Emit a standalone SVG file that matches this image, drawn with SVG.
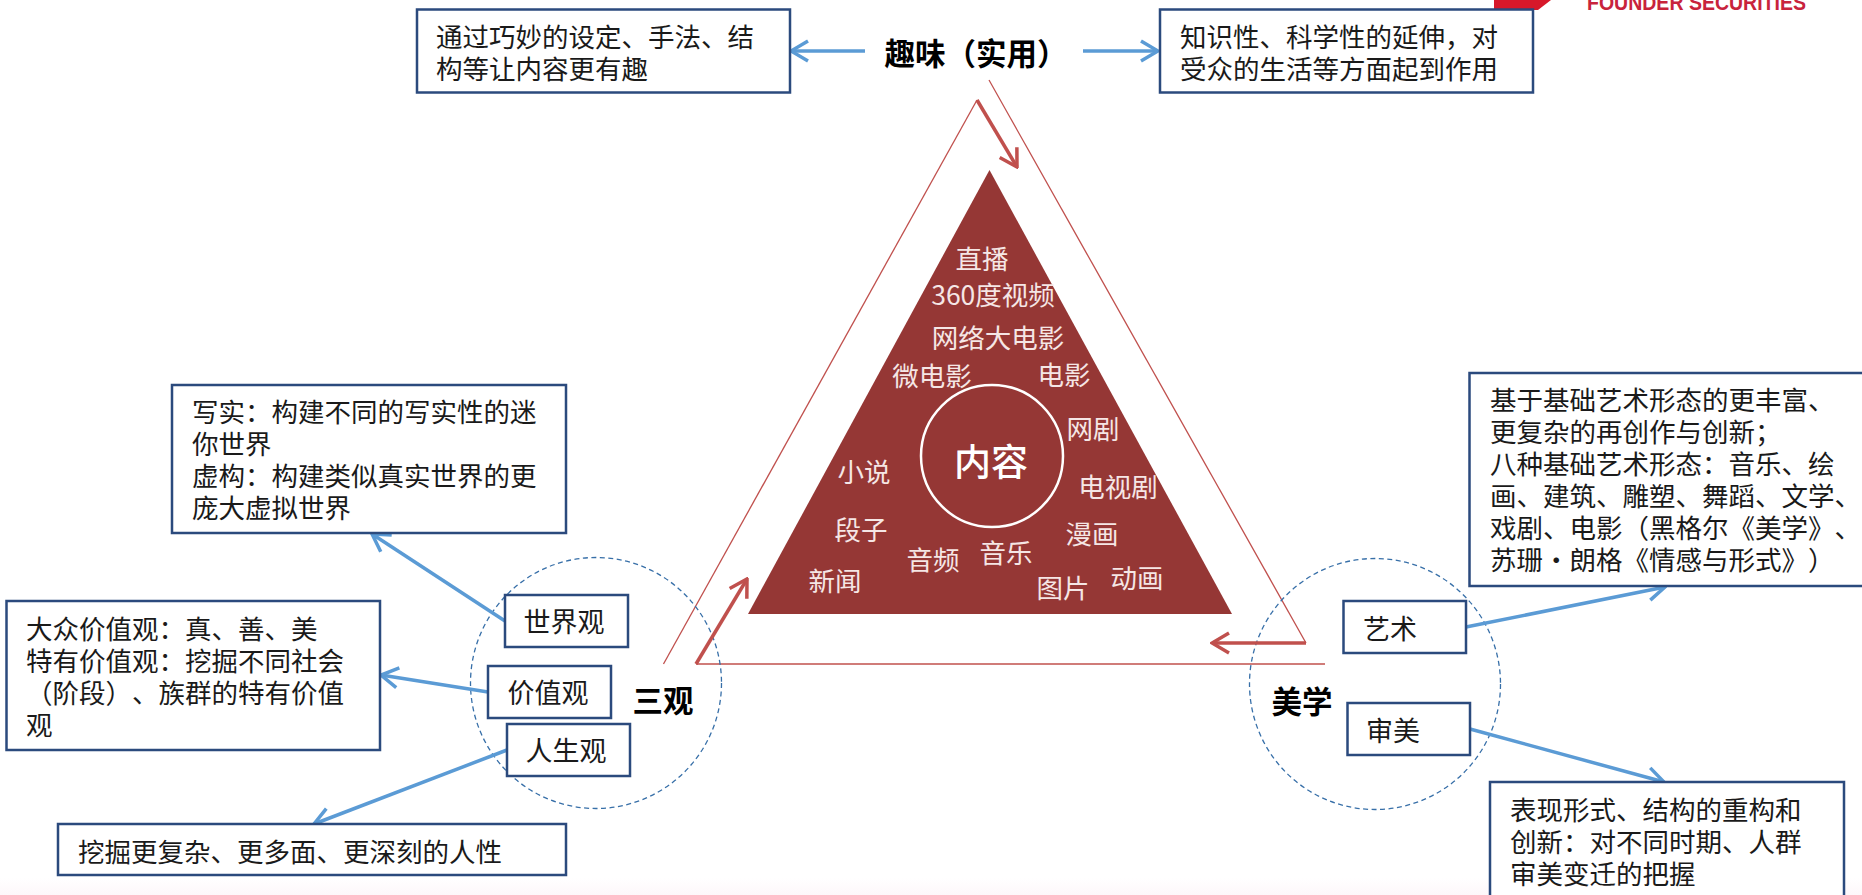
<svg xmlns="http://www.w3.org/2000/svg" width="1862" height="895" viewBox="0 0 1862 895">
<style>
text{font-family:"Noto Sans CJK SC","Noto Sans",sans-serif;text-spacing-trim:space-all;font-feature-settings:"palt" 0;}
.box{fill:#fff;stroke:#2b4a7d;stroke-width:2.5;}
.t{font-size:26.5px;fill:#1a1a1a;}
.c{font-size:27px;fill:#1a1a1a;text-anchor:middle;}
.h{font-size:30.5px;font-weight:700;fill:#000;text-anchor:middle;}
.w{font-size:26.5px;fill:#f5e6e5;text-anchor:middle;font-weight:400;}
.blue{fill:none;stroke:#5b9bd5;stroke-width:3.5;marker-end:url(#ab);}
.red{fill:none;stroke:#c0504d;stroke-width:3.5;marker-end:url(#ar);}
.thin{fill:none;stroke:#c0504d;stroke-width:1.3;}
.dash{fill:none;stroke:#376fa8;stroke-width:1.3;stroke-dasharray:5 3.5;}
</style>
<defs>
<marker id="ab" viewBox="-20 -12 22 24" markerUnits="userSpaceOnUse" markerWidth="22" markerHeight="24" refX="0" refY="0" orient="auto"><path d="M-17-10L0 0L-17 10" fill="none" stroke="#5b9bd5" stroke-width="3.5"/></marker>
<marker id="ar" viewBox="-20 -12 22 24" markerUnits="userSpaceOnUse" markerWidth="22" markerHeight="24" refX="0" refY="0" orient="auto"><path d="M-17-10L0 0L-17 10" fill="none" stroke="#c0504d" stroke-width="3.5"/></marker>
<linearGradient id="bg" x1="0" y1="0" x2="0" y2="1"><stop offset="0" stop-color="#fff"/><stop offset="1" stop-color="#fdf7fa"/></linearGradient>
</defs>
<rect width="1862" height="895" fill="#fff"/>
<rect y="878" width="1862" height="17" fill="url(#bg)"/>

<g id="logo">
<path d="M1494 0H1551L1538 10H1494Z" fill="#d7182a"/>
<text x="1587" y="10" font-size="22" font-weight="700" fill="#c8233c" textLength="219" lengthAdjust="spacingAndGlyphs" style="font-family:'Liberation Sans',sans-serif">FOUNDER SECURITIES</text>
</g>

<g id="frame">
<path class="thin" d="M663.5 664L977 100"/>
<path class="thin" d="M989 80L1306 643"/>
<path class="thin" d="M696 664H1325" stroke-width="1.6"/>
<circle class="dash" cx="596" cy="683" r="125.5"/>
<circle class="dash" cx="1375" cy="684" r="125.5"/>
</g>

<g id="content">
<path d="M989.500 170L1232 614H748Z" fill="#953735"/>
<circle cx="992" cy="456" r="71" fill="none" stroke="#fff" stroke-width="2.5"/>
<text x="991" y="476" font-size="37" font-weight="500" fill="#fff" text-anchor="middle">内容</text>
<text class="w" x="982" y="269">直播</text>
<text class="w" x="993" y="305">360度视频</text>
<text class="w" x="998" y="348">网络大电影</text>
<text class="w" x="932" y="386">微电影</text>
<text class="w" x="1064" y="385">电影</text>
<text class="w" x="1093" y="439">网剧</text>
<text class="w" x="864" y="482">小说</text>
<text class="w" x="1118" y="497">电视剧</text>
<text class="w" x="861" y="540">段子</text>
<text class="w" x="1092" y="544">漫画</text>
<text class="w" x="1006" y="563">音乐</text>
<text class="w" x="933" y="570">音频</text>
<text class="w" x="835" y="591">新闻</text>
<text class="w" x="1063" y="598">图片</text>
<text class="w" x="1137" y="588">动画</text>
</g>

<g id="connectors">
<path class="red" d="M977 100L1017 167"/>
<path class="red" d="M696 664L747 579"/>
<path class="red" d="M1306 643H1212"/>
<path class="blue" d="M865 51H791"/>
<path class="blue" d="M1083 51H1158"/>
<path class="blue" d="M505 621L372 534"/>
<path class="blue" d="M488 692L381 675"/>
<path class="blue" d="M507 750L314 824"/>
<path class="blue" d="M1466 627L1665 587"/>
<path class="blue" d="M1470 729L1664 782"/>
</g>

<g id="title-interest"><text class="h" x="976" y="65">趣味（实用）</text></g>
<g id="title-sanguan"><text class="h" x="663" y="712">三观</text></g>
<g id="title-aesthetics"><text class="h" x="1302" y="713">美学</text></g>

<g id="box-interest-left">
<rect class="box" x="417" y="9.5" width="373" height="83"/>
<text class="t" x="436" y="47">通过巧妙的设定、手法、结</text>
<text class="t" x="436" y="79">构等让内容更有趣</text>
</g>
<g id="box-interest-right">
<rect class="box" x="1160" y="9.5" width="373" height="83"/>
<text class="t" x="1180" y="47">知识性、科学性的延伸，对</text>
<text class="t" x="1180" y="79">受众的生活等方面起到作用</text>
</g>
<g id="box-realism">
<rect class="box" x="172" y="385" width="394" height="148"/>
<text class="t" x="192" y="422">写实：构建不同的写实性的迷</text>
<text class="t" x="192" y="454">你世界</text>
<text class="t" x="192" y="486">虚构：构建类似真实世界的更</text>
<text class="t" x="192" y="518">庞大虚拟世界</text>
</g>
<g id="box-values">
<rect class="box" x="6.5" y="601" width="373.5" height="149"/>
<text class="t" x="26" y="639">大众价值观：真、善、美</text>
<text class="t" x="26" y="671">特有价值观：挖掘不同社会</text>
<text class="t" x="26" y="703">（阶段）、族群的特有价值</text>
<text class="t" x="26" y="735">观</text>
</g>
<g id="box-humanity">
<rect class="box" x="58" y="824" width="508" height="51"/>
<text class="t" x="78" y="862">挖掘更复杂、更多面、更深刻的人性</text>
</g>
<g id="node-worldview">
<rect class="box" x="505" y="595" width="123" height="52"/>
<text class="c" x="564" y="632">世界观</text>
</g>
<g id="node-valueview">
<rect class="box" x="488" y="666" width="123" height="52"/>
<text class="c" x="548" y="703">价值观</text>
</g>
<g id="node-lifeview">
<rect class="box" x="507" y="724" width="123" height="52"/>
<text class="c" x="566" y="761">人生观</text>
</g>
<g id="node-art">
<rect class="box" x="1343.5" y="601" width="122.5" height="52"/>
<text class="c" x="1390" y="639">艺术</text>
</g>
<g id="node-taste">
<rect class="box" x="1347.5" y="703" width="122.5" height="52"/>
<text class="c" x="1393" y="741">审美</text>
</g>
<g id="box-art">
<rect class="box" x="1469.5" y="373" width="420" height="213"/>
<text class="t" x="1490" y="410">基于基础艺术形态的更丰富、</text>
<text class="t" x="1490" y="442">更复杂的再创作与创新；</text>
<text class="t" x="1490" y="474">八种基础艺术形态：音乐、绘</text>
<text class="t" x="1490" y="506">画、建筑、雕塑、舞蹈、文学、</text>
<text class="t" x="1490" y="538">戏剧、电影（黑格尔《美学》、</text>
<text class="t" x="1490" y="570">苏珊·朗格《情感与形式》）</text>
</g>
<g id="box-taste">
<rect class="box" x="1490" y="782" width="354" height="140"/>
<text class="t" x="1510" y="820">表现形式、结构的重构和</text>
<text class="t" x="1510" y="852">创新：对不同时期、人群</text>
<text class="t" x="1510" y="884">审美变迁的把握</text>
</g>
</svg>
